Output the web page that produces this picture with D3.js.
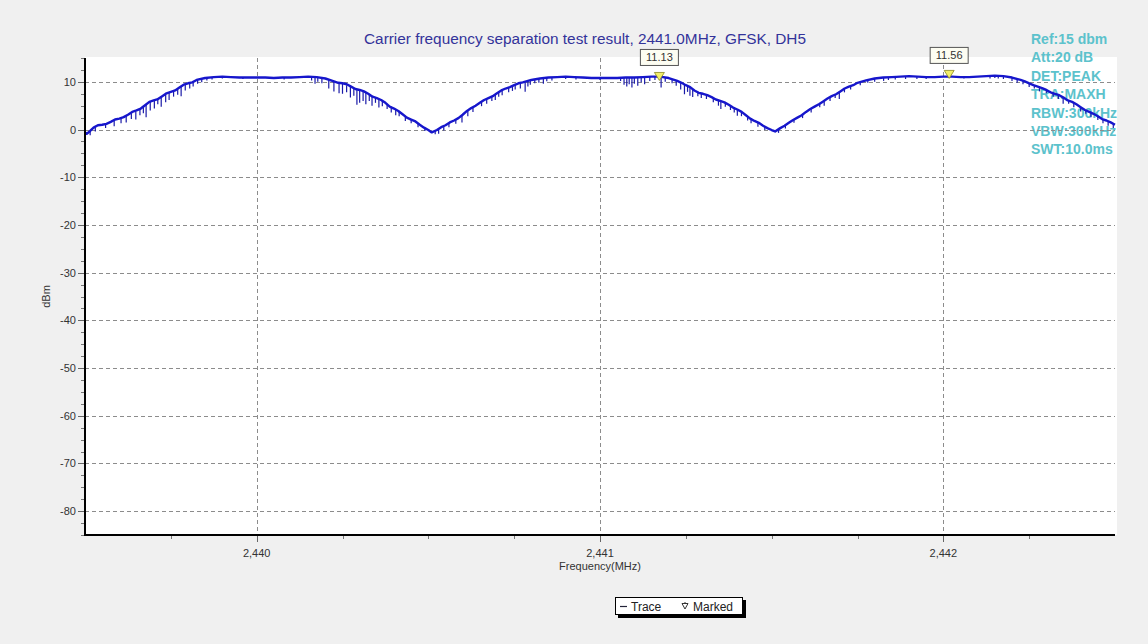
<!DOCTYPE html>
<html>
<head>
<meta charset="utf-8">
<script src="https://cdn.jsdelivr.net/npm/d3@7"></script>
<style>
  html, body { margin: 0; padding: 0; background: #f0f0f0; }
  svg { display: block; font-family: "Liberation Sans", Arial, sans-serif; }
</style>
</head>
<body>
<svg id="chart" width="1148" height="644"></svg>
<script>
// ---- data ----
const titleText = "Carrier frequency separation test result, 2441.0MHz, GFSK, DH5";
const xTickValues = [2440, 2441, 2442];
const xTickLabels = ["2,440", "2,441", "2,442"];
const yTickValues = [10, 0, -10, -20, -30, -40, -50, -60, -70, -80];
const infoLines = ["Ref:15 dbm", "Att:20 dB", "DET:PEAK", "TRA:MAXH", "RBW:300kHz", "VBW:300kHz", "SWT:10.0ms"];

// trace sweep points (MHz, dBm)
const traceFreq = [
  2439.500, 2439.505, 2439.515, 2439.525, 2439.550, 2439.575, 2439.600, 2439.625, 2439.650, 2439.675,
  2439.700, 2439.725, 2439.750, 2439.775, 2439.800, 2439.825, 2439.850, 2439.875, 2439.900, 2439.925,
  2439.950, 2439.975, 2440.000, 2440.025, 2440.050, 2440.075, 2440.100, 2440.125, 2440.150, 2440.175,
  2440.200, 2440.225, 2440.250, 2440.275, 2440.300, 2440.325, 2440.350, 2440.375, 2440.400, 2440.425,
  2440.450, 2440.475, 2440.500, 2440.510, 2440.525, 2440.550, 2440.575, 2440.600, 2440.625, 2440.650,
  2440.675, 2440.700, 2440.725, 2440.750, 2440.775, 2440.800, 2440.825, 2440.850, 2440.875, 2440.900,
  2440.925, 2440.950, 2440.975, 2441.000, 2441.025, 2441.050, 2441.075, 2441.100, 2441.125, 2441.150,
  2441.175, 2441.200, 2441.225, 2441.250, 2441.275, 2441.300, 2441.325, 2441.350, 2441.375, 2441.400,
  2441.425, 2441.450, 2441.475, 2441.500, 2441.510, 2441.525, 2441.550, 2441.575, 2441.600, 2441.625,
  2441.650, 2441.675, 2441.700, 2441.725, 2441.750, 2441.775, 2441.800, 2441.825, 2441.850, 2441.875,
  2441.900, 2441.925, 2441.950, 2441.975, 2442.000, 2442.025, 2442.050, 2442.075, 2442.100, 2442.125,
  2442.150, 2442.175, 2442.200, 2442.225, 2442.250, 2442.275, 2442.300, 2442.325, 2442.350, 2442.375,
  2442.400, 2442.425, 2442.450, 2442.475, 2442.500
];
const traceLevel = [
  -0.6, -0.9, -0.3, 0.4, 1.0, 1.6, 2.3, 3.1, 4.0, 5.1,
  6.1, 7.0, 7.9, 8.8, 9.7, 10.4, 10.8, 11.0, 11.1, 11.0,
  10.9, 10.9, 10.9, 10.9, 10.8, 10.9, 10.9, 11.0, 11.1, 11.0,
  10.7, 10.1, 9.7, 9.0, 8.3, 7.5, 6.6, 5.6, 4.4, 3.2,
  2.1, 1.0, -0.1, -0.6, -0.1, 0.9, 1.9, 3.1, 4.5, 5.6,
  6.6, 7.6, 8.6, 9.3, 9.9, 10.4, 10.7, 10.9, 11.0, 11.1,
  11.0, 10.9, 10.8, 10.8, 10.8, 10.8, 10.9, 10.9, 11.0, 11.1,
  11.1, 10.8, 10.2, 9.3, 8.2, 7.5, 6.8, 6.0, 5.2, 4.2,
  3.0, 1.8, 0.8, -0.1, -0.4, 0.3, 1.4, 2.5, 3.7, 4.8,
  5.9, 7.0, 8.0, 9.0, 9.8, 10.3, 10.7, 10.9, 11.0, 11.1,
  11.2, 11.1, 11.0, 11.0, 11.1, 11.1, 11.0, 11.0, 11.1, 11.2,
  11.3, 11.2, 10.9, 10.4, 9.7, 9.0, 8.3, 7.5, 6.7, 5.8,
  4.7, 3.7, 2.8, 1.9, 1.0
];

// extra sweep points on the channel skirts
const skirtFreq = [
  2439.5375, 2439.5625, 2439.5875, 2439.6125, 2439.6375, 2439.6625, 2439.6875, 2439.7125, 2439.7375, 2439.7625, 2439.7875, 2439.8125,
  2440.2375, 2440.2625, 2440.2875, 2440.3125, 2440.3375, 2440.3625, 2440.3875, 2440.4125, 2440.4375, 2440.4625, 2440.4875,
  2440.5375, 2440.5625, 2440.5875, 2440.6125, 2440.6375, 2440.6625, 2440.6875, 2440.7125, 2440.7375, 2440.7625,
  2441.2375, 2441.2625, 2441.2875, 2441.3125, 2441.3375, 2441.3625, 2441.3875, 2441.4125, 2441.4375, 2441.4625, 2441.4875,
  2441.5375, 2441.5625, 2441.5875, 2441.6125, 2441.6375, 2441.6625, 2441.6875, 2441.7125, 2441.7375,
  2442.2375, 2442.2625, 2442.2875, 2442.3125, 2442.3375, 2442.3625, 2442.3875, 2442.4125, 2442.4375, 2442.4625, 2442.4875
];
const skirtLevel = [
  0.9, 1.2, 2.1, 2.6, 3.7, 4.4, 5.8, 6.4, 7.6, 8.2, 9.4, 9.9,
  9.8, 9.5, 8.5, 8.0, 6.9, 6.2, 4.8, 3.9, 2.5, 1.7, 0.4,
  0.5, 1.5, 2.4, 3.9, 5.0, 6.2, 7.0, 8.2, 8.9, 9.7,
  9.8, 8.9, 7.7, 7.2, 6.3, 5.7, 4.6, 3.7, 2.3, 1.4, 0.3,
  0.8, 2.0, 3.0, 4.3, 5.3, 6.5, 7.4, 8.6, 9.3,
  10.1, 9.3, 8.7, 7.8, 7.2, 6.1, 5.3, 4.1, 3.3, 2.2, 1.5
];

// MAXH dropouts: [MHz, top dBm, bottom dBm]
const dropouts = [
  [2439.515, -0.1, -1.2], [2439.530, 0.5, -0.4], [2439.560, 1.2, 0.3], [2439.585, 1.8, 0.7],
  [2439.605, 2.5, 1.3], [2439.620, 2.9, 1.5], [2439.635, 3.4, 2.2], [2439.648, 3.8, 2.1],
  [2439.660, 4.4, 3.0], [2439.670, 4.9, 3.4], [2439.678, 5.3, 2.6], [2439.690, 5.8, 4.0],
  [2439.702, 6.2, 4.4], [2439.712, 6.6, 5.3], [2439.722, 6.9, 4.8], [2439.735, 7.4, 5.7],
  [2439.745, 7.8, 6.2], [2439.758, 8.2, 6.9], [2439.770, 8.7, 7.3], [2439.780, 9.0, 7.0],
  [2439.792, 9.4, 8.2], [2439.805, 9.9, 8.6], [2439.815, 10.1, 9.0], [2439.828, 10.5, 9.6],
  [2439.840, 10.7, 9.9], [2439.855, 10.9, 10.3], [2439.870, 11.0, 10.5],
  [2439.900, 11.1, 10.7], [2439.960, 10.9, 10.6], [2440.040, 10.9, 10.6], [2440.080, 10.9, 10.5],
  [2440.160, 11.1, 10.3], [2440.170, 11.0, 9.6], [2440.178, 11.0, 10.0], [2440.190, 10.9, 9.7],
  [2440.210, 10.6, 8.6], [2440.225, 10.1, 8.0], [2440.240, 9.8, 7.6], [2440.250, 9.7, 7.5],
  [2440.262, 9.3, 7.8], [2440.273, 9.0, 6.7], [2440.283, 8.7, 7.1], [2440.292, 8.5, 5.2],
  [2440.300, 8.3, 5.6], [2440.310, 8.0, 6.0], [2440.318, 7.7, 5.3], [2440.328, 7.4, 6.0],
  [2440.336, 7.1, 5.0], [2440.346, 6.8, 5.6], [2440.356, 6.4, 4.6], [2440.366, 6.0, 4.9],
  [2440.380, 5.4, 4.3], [2440.392, 4.8, 3.6], [2440.405, 4.2, 3.0], [2440.415, 3.7, 2.8],
  [2440.433, 2.9, 1.8], [2440.450, 2.1, 1.3], [2440.470, 1.2, 0.5], [2440.490, 0.4, -0.3],
  [2440.520, -0.3, -1.0], [2440.530, 0.1, -0.9], [2440.545, 0.7, -0.2], [2440.560, 1.3, 0.5],
  [2440.580, 2.1, 1.2], [2440.598, 2.9, 1.5], [2440.615, 3.9, 2.8], [2440.630, 4.6, 3.7],
  [2440.655, 5.8, 4.9], [2440.670, 6.4, 5.4], [2440.685, 7.0, 6.0], [2440.695, 7.4, 6.2],
  [2440.705, 7.8, 6.9], [2440.715, 8.2, 7.2], [2440.734, 8.9, 7.8], [2440.745, 9.2, 8.1],
  [2440.753, 9.4, 8.4], [2440.768, 9.8, 8.6], [2440.782, 10.1, 7.9], [2440.790, 10.3, 9.0],
  [2440.797, 10.4, 9.4], [2440.810, 10.6, 9.7], [2440.822, 10.7, 9.8], [2440.835, 10.8, 9.6],
  [2440.845, 10.9, 10.1], [2440.860, 11.0, 10.3],
  [2440.900, 11.1, 10.6], [2440.930, 11.0, 10.5], [2441.000, 10.8, 10.4], [2441.060, 10.8, 10.2],
  [2441.070, 10.9, 9.4], [2441.078, 10.9, 9.0], [2441.085, 10.9, 9.5], [2441.093, 10.9, 8.8],
  [2441.100, 10.9, 9.6], [2441.110, 11.0, 9.2], [2441.120, 11.0, 9.9], [2441.130, 11.0, 9.5],
  [2441.145, 11.1, 10.2], [2441.160, 11.1, 10.4], [2441.178, 11.1, 8.8], [2441.190, 11.0, 10.0],
  [2441.210, 10.6, 9.7], [2441.222, 10.3, 9.2], [2441.235, 9.9, 8.4], [2441.246, 9.4, 7.4],
  [2441.255, 9.0, 7.9], [2441.262, 8.7, 7.1], [2441.270, 8.4, 6.8], [2441.285, 7.9, 7.0],
  [2441.295, 7.6, 6.6], [2441.310, 7.2, 6.4], [2441.330, 6.6, 5.7], [2441.345, 6.1, 5.0],
  [2441.352, 5.9, 4.3], [2441.365, 5.5, 4.8], [2441.380, 5.0, 4.1], [2441.391, 4.5, 3.6],
  [2441.400, 4.2, 2.9], [2441.412, 3.6, 2.8], [2441.430, 2.8, 1.9], [2441.440, 2.3, 1.3],
  [2441.460, 1.4, 0.6], [2441.480, 0.6, -0.1],
  [2441.520, 0.0, -0.7], [2441.540, 1.0, 0.2], [2441.565, 2.1, 1.4], [2441.590, 3.2, 2.4],
  [2441.615, 4.4, 3.6], [2441.640, 5.5, 4.7], [2441.653, 6.1, 5.0], [2441.670, 6.8, 6.0],
  [2441.685, 7.4, 6.6], [2441.697, 7.9, 6.4], [2441.712, 8.5, 7.8], [2441.730, 9.2, 8.4],
  [2441.758, 10.0, 9.3], [2441.780, 10.4, 9.8], [2441.800, 10.7, 10.0], [2441.826, 10.9, 10.2],
  [2441.840, 11.0, 10.4], [2441.860, 11.0, 10.5],
  [2441.890, 11.2, 10.6], [2441.923, 11.1, 10.6], [2441.950, 11.0, 10.6], [2442.060, 11.0, 10.7],
  [2442.136, 11.2, 10.7], [2442.150, 11.3, 10.8], [2442.160, 11.3, 10.7], [2442.175, 11.2, 10.6],
  [2442.200, 10.9, 10.2], [2442.215, 10.6, 9.8], [2442.232, 10.2, 9.5], [2442.250, 9.7, 8.9],
  [2442.265, 9.3, 8.6], [2442.280, 8.9, 8.0], [2442.300, 8.3, 7.6], [2442.320, 7.7, 6.9],
  [2442.335, 7.2, 6.4], [2442.349, 6.8, 5.4], [2442.365, 6.2, 5.4], [2442.380, 5.6, 4.7],
  [2442.400, 4.7, 3.8], [2442.415, 4.1, 3.3], [2442.430, 3.5, 2.6], [2442.450, 2.8, 2.0],
  [2442.465, 2.2, 1.3], [2442.480, 1.7, 0.8], [2442.495, 1.1, 0.3]
];

// peak markers
const markerFreq = [2441.173, 2442.017];
const markerLevel = [11.13, 11.56];

// ---- layout ----
const svg = d3.select("#chart");
const W = 1148, H = 644;
const plot = { left: 85, right: 1115, top: 58, bottom: 535 };

const x = d3.scaleLinear().domain([2439.5, 2442.5]).range([plot.left, plot.right]);
const y = d3.scaleLinear().domain([-85, 15]).range([plot.bottom, plot.top]);

svg.append("rect").attr("width", W).attr("height", H).attr("fill", "#f0f0f0");

// plot background
svg.append("rect")
  .attr("x", plot.left).attr("y", plot.top - 1)
  .attr("width", plot.right - plot.left + 2).attr("height", plot.bottom - plot.top + 1)
  .attr("fill", "#ffffff");

// title
svg.append("text")
  .attr("x", 585).attr("y", 44)
  .attr("text-anchor", "middle")
  .attr("font-size", 14)
  .attr("textLength", 442).attr("lengthAdjust", "spacingAndGlyphs")
  .attr("fill", "#33339a")
  .text(titleText);

// analyzer settings
svg.append("g").selectAll("text").data(infoLines).join("text")
  .attr("x", 1031)
  .attr("y", (d, i) => 44 + i * 18.4)
  .attr("font-size", 14)
  .attr("font-weight", "bold")
  .attr("fill", "#5cc2cc")
  .text(d => d);

// grid
const grid = svg.append("g").attr("stroke", "#8c8c8c").attr("stroke-width", 1).attr("stroke-dasharray", "4,3");
grid.selectAll("line.h").data(yTickValues).join("line")
  .attr("class", "h")
  .attr("x1", plot.left).attr("x2", plot.right)
  .attr("y1", d => Math.round(y(d)) + 0.5).attr("y2", d => Math.round(y(d)) + 0.5);
grid.selectAll("line.v").data(xTickValues).join("line")
  .attr("class", "v")
  .attr("x1", d => Math.round(x(d)) + 0.5).attr("x2", d => Math.round(x(d)) + 0.5)
  .attr("y1", plot.top).attr("y2", plot.bottom);

// trace
const tracePts = traceFreq.map((f, i) => [f, traceLevel[i]])
  .concat(skirtFreq.map((f, i) => [f, skirtLevel[i]]))
  .sort((a, b) => a[0] - b[0]);
const line = d3.line().x(d => x(d[0])).y(d => y(d[1]));
svg.append("g").selectAll("line").data(dropouts).join("line")
  .attr("x1", d => x(d[0])).attr("x2", d => x(d[0]))
  .attr("y1", d => y(d[1])).attr("y2", d => y(d[2]))
  .attr("stroke", "#1a1aa8").attr("stroke-width", 1.2);
svg.append("path")
  .datum(tracePts)
  .attr("d", line)
  .attr("fill", "none")
  .attr("stroke", "#1616cc")
  .attr("stroke-width", 2.4)
  .attr("stroke-linejoin", "round");

// axes
const axisG = svg.append("g");
const yMinor = d3.range(-85, 15.01, 2.5).filter(v => v % 10 !== 0);
axisG.selectAll("line.ymin").data(yMinor).join("line")
  .attr("x1", plot.left - 4).attr("x2", plot.left)
  .attr("y1", d => Math.round(y(d)) + 0.5).attr("y2", d => Math.round(y(d)) + 0.5)
  .attr("stroke", "#777");
axisG.selectAll("line.ymaj").data(yTickValues).join("line")
  .attr("x1", plot.left - 7).attr("x2", plot.left)
  .attr("y1", d => Math.round(y(d)) + 0.5).attr("y2", d => Math.round(y(d)) + 0.5)
  .attr("stroke", "#666");
axisG.selectAll("text.ylab").data(yTickValues).join("text")
  .attr("x", plot.left - 9).attr("y", d => y(d) + 4)
  .attr("text-anchor", "end").attr("font-size", 11).attr("fill", "#333")
  .text(d => d);

const xMinor = d3.range(2439.75, 2442.5, 0.25).filter(v => Math.abs(v - Math.round(v)) > 0.01);
axisG.selectAll("line.xmin").data(xMinor).join("line")
  .attr("x1", d => Math.round(x(d)) + 0.5).attr("x2", d => Math.round(x(d)) + 0.5)
  .attr("y1", plot.bottom).attr("y2", plot.bottom + 4)
  .attr("stroke", "#777");
axisG.selectAll("line.xmaj").data(xTickValues).join("line")
  .attr("x1", d => Math.round(x(d)) + 0.5).attr("x2", d => Math.round(x(d)) + 0.5)
  .attr("y1", plot.bottom).attr("y2", plot.bottom + 7)
  .attr("stroke", "#666");
axisG.selectAll("text.xlab").data(xTickValues).join("text")
  .attr("x", d => x(d)).attr("y", plot.bottom + 22)
  .attr("text-anchor", "middle").attr("font-size", 11).attr("fill", "#333")
  .text((d, i) => xTickLabels[i]);

svg.append("line").attr("x1", plot.left).attr("x2", plot.left)
  .attr("y1", plot.top).attr("y2", plot.bottom + 1)
  .attr("stroke", "#000").attr("stroke-width", 2);
svg.append("line").attr("x1", plot.left - 1).attr("x2", plot.right)
  .attr("y1", plot.bottom).attr("y2", plot.bottom)
  .attr("stroke", "#000").attr("stroke-width", 2);

svg.append("text")
  .attr("x", (plot.left + plot.right) / 2).attr("y", plot.bottom + 35)
  .attr("text-anchor", "middle").attr("font-size", 11).attr("fill", "#333")
  .text("Frequency(MHz)");
svg.append("text")
  .attr("transform", `translate(50,${(plot.top + plot.bottom) / 2}) rotate(-90)`)
  .attr("text-anchor", "middle").attr("font-size", 11).attr("fill", "#333")
  .text("dBm");

// markers
const markers = markerFreq.map((f, i) => ({ f, v: markerLevel[i] }));
const mk = svg.append("g").selectAll("g").data(markers).join("g")
  .attr("transform", d => `translate(${x(d.f)},${y(d.v)})`);
mk.append("path")
  .attr("d", "M-5,-4 L5,-4 L0,4 Z")
  .attr("fill", "#f2ee6a").attr("stroke", "#8a8620").attr("stroke-width", 0.8);
mk.append("rect")
  .attr("x", -19).attr("y", -27).attr("width", 38).attr("height", 16)
  .attr("fill", "#fdfdf2").attr("stroke", "#555").attr("stroke-width", 1);
mk.append("text")
  .attr("x", 0).attr("y", -15).attr("text-anchor", "middle")
  .attr("font-size", 11).attr("fill", "#333")
  .text(d => d.v.toFixed(2));

// legend
const lg = svg.append("g").attr("transform", "translate(615,597)");
lg.append("rect").attr("x", 3).attr("y", 3).attr("width", 128).attr("height", 18).attr("fill", "#000");
lg.append("rect").attr("x", 0.5).attr("y", 0.5).attr("width", 127).attr("height", 17)
  .attr("fill", "#fff").attr("stroke", "#000");
lg.append("line").attr("x1", 5).attr("x2", 12).attr("y1", 9.5).attr("y2", 9.5)
  .attr("stroke", "#222238").attr("stroke-width", 1.2);
lg.append("text").attr("x", 16).attr("y", 13.5).attr("font-size", 12).attr("fill", "#222").text("Trace");
lg.append("path").attr("d", "M67,6.5 L73,6.5 L70,12 Z M70,5 L70,7")
  .attr("fill", "none").attr("stroke", "#333").attr("stroke-width", 1);
lg.append("text").attr("x", 78).attr("y", 13.5).attr("font-size", 12).attr("fill", "#222").text("Marked");
</script>
</body>
</html>
